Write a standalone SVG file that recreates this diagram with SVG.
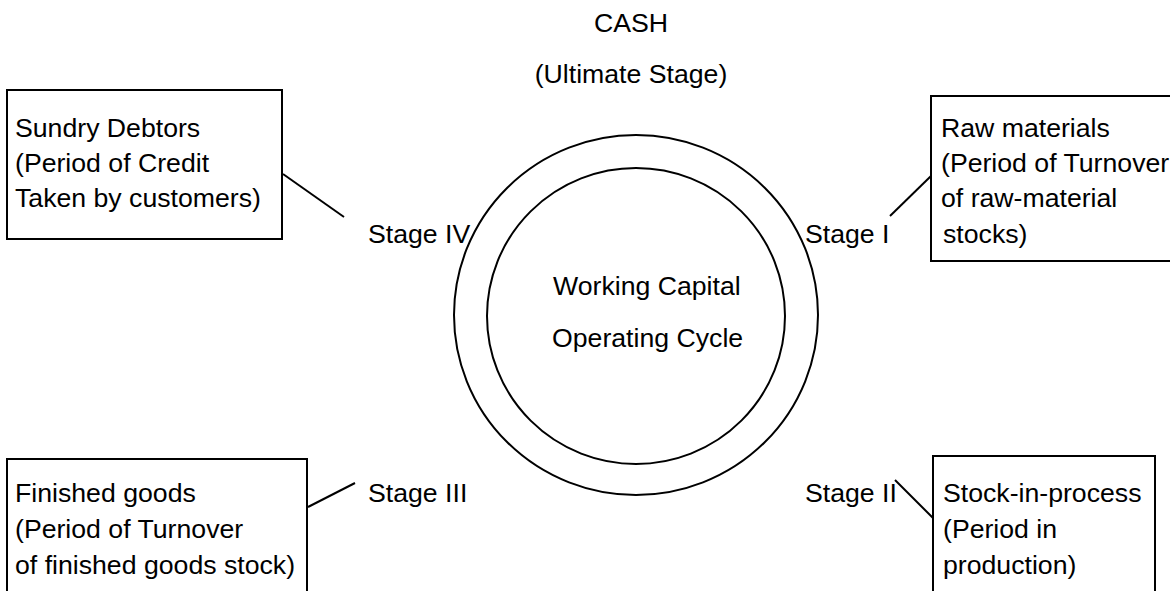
<svg xmlns="http://www.w3.org/2000/svg" width="1170" height="591" viewBox="0 0 1170 591">
<style>
text{font-family:"Liberation Sans",Arial,sans-serif;font-size:26.67px;fill:#000}
.box{fill:#fff;stroke:#000;stroke-width:2}
.ring{fill:none;stroke:#000;stroke-width:2}
.con line{stroke:#000;stroke-width:2}
</style>
<rect width="1170" height="591" fill="#fff"/>
<g id="cash">
<text x="631" y="32" text-anchor="middle">CASH</text>
<text x="631" y="83" text-anchor="middle">(Ultimate Stage)</text>
</g>
<g id="cycle">
<ellipse class="ring" cx="636" cy="315" rx="182" ry="180"/>
<ellipse class="ring" cx="636" cy="316" rx="149" ry="148"/>
<text x="553" y="295">Working Capital</text>
<text x="552" y="347">Operating Cycle</text>
</g>
<g id="stage-labels">
<text x="368" y="243">Stage IV</text>
<text x="805" y="243">Stage I</text>
<text x="368" y="502">Stage III</text>
<text x="805" y="502">Stage II</text>
</g>
<g class="con" id="connectors">
<line x1="283" y1="174" x2="344" y2="217"/>
<line x1="890" y1="216" x2="931" y2="176"/>
<line x1="308" y1="507" x2="355" y2="483"/>
<line x1="895" y1="480" x2="934" y2="519"/>
</g>
<g id="sundry-debtors">
<rect class="box" x="7" y="90" width="275" height="149"/>
<text x="15" y="137">Sundry Debtors</text>
<text x="15" y="172">(Period of Credit</text>
<text x="15" y="207">Taken by customers)</text>
</g>
<g id="raw-materials">
<rect class="box" x="931" y="96" width="260" height="165"/>
<text x="941" y="137">Raw materials</text>
<text x="941" y="172">(Period of Turnover</text>
<text x="941" y="207">of raw-material</text>
<text x="943" y="243">stocks)</text>
</g>
<g id="finished-goods">
<rect class="box" x="7" y="459" width="300" height="150"/>
<text x="15" y="502">Finished goods</text>
<text x="15" y="538">(Period of Turnover</text>
<text x="15" y="574">of finished goods stock)</text>
</g>
<g id="stock-in-process">
<rect class="box" x="933" y="456" width="222" height="150"/>
<text x="943" y="502">Stock-in-process</text>
<text x="943" y="538">(Period in</text>
<text x="943" y="574">production)</text>
</g>
</svg>
